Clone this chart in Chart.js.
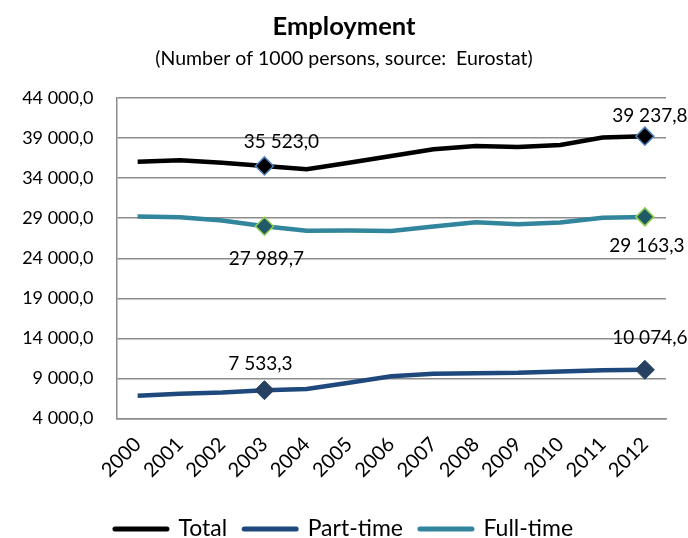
<!DOCTYPE html>
<html>
<head>
<meta charset="utf-8">
<script src="https://cdn.jsdelivr.net/npm/chart.js@4.4.1/dist/chart.umd.min.js"></script>
<style>
  body { margin: 0; background: #fff; }
  #wrap { width: 688px; height: 538px; }
</style>
</head>
<body>
<div id="wrap"><canvas id="myChart" width="688" height="538"></canvas></div>
<script>
const years = ['2000', '2001', '2002', '2003', '2004', '2005', '2006', '2007', '2008', '2009', '2010', '2011', '2012'];
const total = [36050, 36230, 35930, 35523.0, 35100, 35930, 36770, 37600, 38020, 37890, 38140, 39060, 39237.8];
const partTime = [6850, 7080, 7240, 7533.3, 7670, 8450, 9280, 9570, 9650, 9700, 9870, 10030, 10074.6];
const fullTime = [29200, 29130, 28700, 27989.7, 27420, 27450, 27400, 27950, 28500, 28250, 28450, 29050, 29163.3];
const markedYears = ['2003', '2012'];
const yMin = 4000, yMax = 44000, yStep = 5000;

// 35523 -> "35 523,0"
const fmt = v => {
  const [i, d] = v.toFixed(1).split('.');
  return i.replace(/\B(?=(\d{3})+(?!\d))/g, ' ') + ',' + d;
};

const isMarked = c => markedYears.includes(years[c.dataIndex]);

Chart.defaults.font.family = 'Lato';
Chart.defaults.color = '#000';

// value labels next to the diamonds
const labelOffsets = [
  [[17, -24], [5, -20]],
  [[-4, -26], [5, -32]],
  [[2, 33], [2, 29]]
];
const valueLabels = {
  id: 'valueLabels',
  afterDatasetsDraw(chart) {
    const ctx = chart.ctx;
    ctx.save();
    ctx.font = '19px Lato';
    ctx.fillStyle = '#000';
    ctx.textAlign = 'center';
    ctx.textBaseline = 'middle';
    chart.data.datasets.forEach((ds, di) => {
      const meta = chart.getDatasetMeta(di);
      markedYears.forEach((yr, k) => {
        const idx = years.indexOf(yr);
        const pt = meta.data[idx];
        const off = labelOffsets[di][k];
        ctx.fillText(fmt(ds.data[idx]), pt.x + off[0], pt.y + off[1]);
      });
    });
    ctx.restore();
  }
};

const ctx = document.getElementById('myChart').getContext('2d');
new Chart(ctx, {
  type: 'line',
  data: {
    labels: years,
    datasets: [
      {
        label: 'Total',
        data: total,
        borderColor: '#000000',
        backgroundColor: '#000000',
        borderWidth: 4.5,
        tension: 0,
        pointStyle: 'rectRot',
        pointRadius: c => isMarked(c) ? 9 : 0,
        pointBackgroundColor: '#000000',
        pointBorderColor: '#4f81bd',
        pointBorderWidth: 1.5
      },
      {
        label: 'Part-time',
        data: partTime,
        borderColor: '#1f497d',
        backgroundColor: '#1f497d',
        borderWidth: 4.5,
        tension: 0,
        pointStyle: 'rectRot',
        pointRadius: c => isMarked(c) ? 9.5 : 0,
        pointBackgroundColor: '#254061',
        pointBorderColor: '#254061',
        pointBorderWidth: 1
      },
      {
        label: 'Full-time',
        data: fullTime,
        borderColor: '#31859c',
        backgroundColor: '#31859c',
        borderWidth: 4.5,
        tension: 0,
        pointStyle: 'rectRot',
        pointRadius: c => isMarked(c) ? 9 : 0,
        pointBackgroundColor: '#215968',
        pointBorderColor: '#92d050',
        pointBorderWidth: 1.5
      }
    ]
  },
  options: {
    responsive: false,
    devicePixelRatio: 1,
    animation: false,
    layout: { padding: { left: 22, right: 22, top: 0, bottom: 0 } },
    plugins: {
      title: {
        display: true,
        text: 'Employment',
        font: { size: 25.5, weight: 'bold' },
        padding: { top: 11, bottom: 2 }
      },
      subtitle: {
        display: true,
        text: '(Number of 1000 persons, source:  Eurostat)',
        font: { size: 19.5 },
        color: '#000',
        padding: { top: 3, bottom: 28 }
      },
      legend: {
        position: 'bottom',
        maxHeight: 37.5,
        labels: {
          usePointStyle: true,
          pointStyleWidth: 52,
          padding: 17,
          font: { size: 23 },
          generateLabels: chart => chart.data.datasets.map((ds, i) => ({
            text: ds.label,
            datasetIndex: i,
            pointStyle: 'line',
            strokeStyle: ds.borderColor,
            fillStyle: ds.borderColor,
            lineWidth: 5,
            lineCap: 'round',
            hidden: false
          }))
        }
      },
      tooltip: { enabled: false }
    },
    scales: {
      x: {
        offset: true,
        grid: { display: false, drawTicks: false },
        border: { display: true, color: '#8c8c8c', width: 1.5 },
        ticks: {
          autoSkip: false,
          maxRotation: 45,
          minRotation: 45,
          padding: 14,
          font: { size: 20 }
        },
        afterFit: s => { s.height = 82; }
      },
      y: {
        min: yMin,
        max: yMax,
        grid: { color: '#8c8c8c', lineWidth: 1.5, drawTicks: false },
        border: { display: true, color: '#8c8c8c', width: 1.5 },
        ticks: {
          stepSize: yStep,
          padding: 23,
          font: { size: 18 },
          callback: v => fmt(v)
        },
        afterFit: s => { s.width = 94.5; }
      }
    }
  },
  plugins: [valueLabels]
});
</script>
</body>
</html>
